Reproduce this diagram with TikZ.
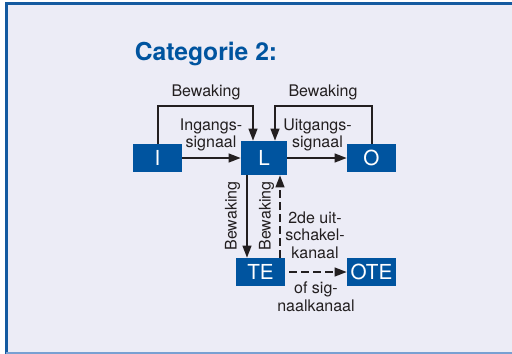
\documentclass[tikz,border=0pt]{standalone}
\usepackage{fontspec}
\setmainfont{TeX Gyre Heros}
\usetikzlibrary{arrows.meta}
\definecolor{boxblue}{RGB}{0,84,159}
\definecolor{panel}{RGB}{236,236,246}
\definecolor{edgeblue}{RGB}{20,90,160}
\definecolor{lightedge}{RGB}{120,160,210}
\definecolor{ink}{RGB}{35,31,32}
\begin{document}
\begin{tikzpicture}[x=0.75pt,y=-0.75pt,
  block/.style={fill=boxblue,text=white,inner sep=0pt,font=\fontsize{15.5}{16}\selectfont,
    minimum width=36.75pt,minimum height=21pt},
  lbl/.style={text=ink,inner sep=0pt,align=center,font=\fontsize{12}{13.2}\selectfont},
  link/.style={draw=ink,line width=1.5pt,-{Triangle[length=9pt,width=6.5pt]}},
  dlink/.style={link,dash pattern=on 5.5pt off 3.5pt}]
  % panel
  \useasboundingbox (0,0) rectangle (512,354);
  \fill[white] (0,0) rectangle (512,354);
  \fill[panel] (6.5,3) rectangle (512,354);
  \draw[edgeblue,line width=2.25pt] (6.5,354) -- (6.5,3.5) -- (512,3.5);
  \draw[lightedge,line width=1.5pt] (6.5,353) -- (512,353);
  % title
  \node[anchor=base west,inner sep=0pt,text=boxblue,font=\fontsize{18.5}{20}\selectfont\bfseries]
    (title) at (134.5,60) {Categorie 2:};
  % blocks
  \node[block] (I) at (157.5,158) {I};
  \node[block,minimum width=34.5pt,minimum height=25.5pt] (L) at (264,158) {L};
  \node[block] (O) at (371.5,158) {O};
  \node[block] (TE) at (260.5,272) {TE};
  \node[block] (OTE) at (371.5,272) {OTE};
  % helper coordinates for the bends
  \coordinate (lt) at (253,106);
  \coordinate (rt) at (275,106);
  \coordinate (dn) at (247,0);
  \coordinate (up) at (280,0);
  % connectors
  \draw[link] (I) -- (L);
  \draw[link] (L) -- (O);
  \draw[link] (I.north) |- (lt) -- (lt |- L.north);
  \draw[link] (O.north) |- (rt) -- (rt |- L.north);
  \draw[link] (dn |- L.south) -- (dn |- TE.north);
  \draw[dlink] (up |- TE.north) -- (up |- L.south);
  \draw[dlink,shorten <=3pt] (TE) -- (OTE);
  % labels
  \node[lbl] (b1) at (206,92) {Bewaking};
  \node[lbl] (b2) at (323,92) {Bewaking};
  \node[lbl] (ing) at (211,135) {Ingangs-\\signaal};
  \node[lbl] (uit) at (317.5,135) {Uitgangs-\\signaal};
  \node[lbl,rotate=90] (b3) at (232.5,216) {Bewaking};
  \node[lbl,rotate=90] (b4) at (266.5,216) {Bewaking};
  \node[lbl] (sch) at (315,235) {2de uit-\\schakel-\\kanaal};
  \node[lbl] (sig) at (316,297) {of sig-\\naalkanaal};
\end{tikzpicture}
\end{document}
